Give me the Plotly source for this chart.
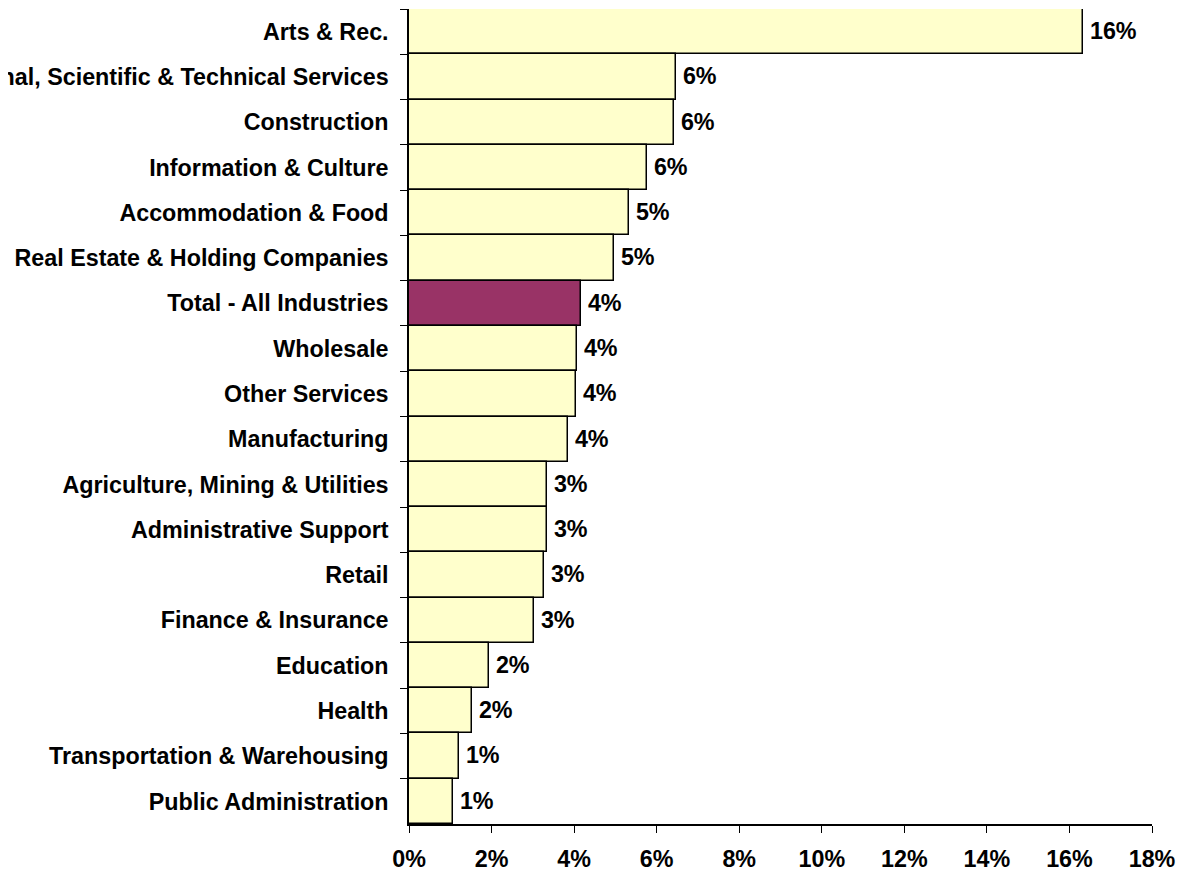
import plotly.graph_objects as go

categories = [
    "Arts & Rec.",
    "Professional, Scientific & Technical Services",
    "Construction",
    "Information & Culture",
    "Accommodation & Food",
    "Real Estate & Holding Companies",
    "Total - All Industries",
    "Wholesale",
    "Other Services",
    "Manufacturing",
    "Agriculture, Mining & Utilities",
    "Administrative Support",
    "Retail",
    "Finance & Insurance",
    "Education",
    "Health",
    "Transportation & Warehousing",
    "Public Administration",
]
values = [16.32, 6.47, 6.42, 5.77, 5.33, 4.97, 4.16, 4.07, 4.05, 3.85,
          3.35, 3.35, 3.27, 3.03, 1.94, 1.52, 1.20, 1.07]
values = [v / 100 for v in values]
highlight = "Total - All Industries"
x_ticks = [0, 0.02, 0.04, 0.06, 0.08, 0.10, 0.12, 0.14, 0.16, 0.18]

colors = ["#993366" if c == highlight else "#FFFFCC" for c in categories]

FONT = "Liberation Sans, Arial, sans-serif"
FS = 23.3

fig = go.Figure(go.Bar(
    x=values,
    y=categories,
    orientation="h",
    marker=dict(color=colors, line=dict(color="black", width=1.5)),
    texttemplate="\u2009%{x:.0%}",
    textposition="outside",
    cliponaxis=False,
    textfont=dict(family=FONT, size=FS, color="black", weight="bold"),
))

fig.update_layout(
    width=1181, height=863,
    margin=dict(l=401, r=37, t=1, b=47, autoexpand=False),
    paper_bgcolor="white", plot_bgcolor="white",
    bargap=0,
    showlegend=False,
    font=dict(family=FONT, size=FS, color="black", weight="bold"),
)
fig.update_xaxes(
    range=[0, 0.18], tickvals=x_ticks, tickformat=".0%",
    showgrid=False, zeroline=False,
    showline=True, linecolor="black", linewidth=1.5,
    ticks="outside", ticklen=7, tickcolor="black", tickwidth=1,
    ticklabelstandoff=6,
    tickfont=dict(family=FONT, size=FS, color="black", weight="bold"),
    automargin=False,
)
fig.update_yaxes(
    autorange="reversed", type="category",
    showgrid=False, zeroline=False,
    showline=True, linecolor="black", linewidth=1.5,
    ticks="outside", ticklen=7, tickcolor="black", tickwidth=1,
    tickson="boundaries",
    ticklabelstandoff=14,
    tickfont=dict(family=FONT, size=FS, color="black", weight="bold"),
    automargin=False,
)

fig.write_html("out.html")
